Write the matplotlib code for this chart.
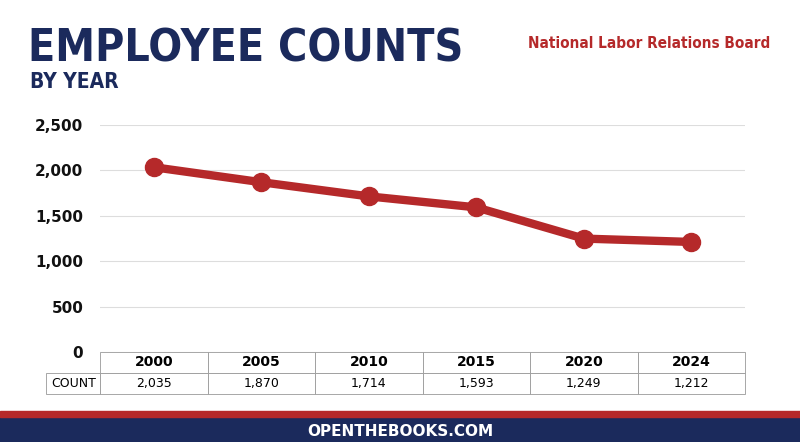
import matplotlib
matplotlib.use("Agg")
import matplotlib.pyplot as plt
from matplotlib.patches import Rectangle

years = ["2000", "2005", "2010", "2015", "2020", "2024"]
counts = [2035, 1870, 1714, 1593, 1249, 1212]
count_labels = ["2,035", "1,870", "1,714", "1,593", "1,249", "1,212"]
yticks = [0, 500, 1000, 1500, 2000, 2500]

W, H = 800, 442
fig = plt.figure(figsize=(8, 4.42), dpi=100)
fig.patch.set_facecolor("white")

def fx(px): return px / W
def fy(py): return 1 - py / H

ax = fig.add_axes([fx(100), fy(352), fx(745) - fx(100), fy(125) - fy(352)])
ax.set_xlim(-0.5, 5.5)
ax.set_ylim(0, 2500)
x = list(range(len(years)))
ax.plot(x, counts, color="#b5292a", lw=6, marker="o", ms=13, solid_capstyle="round", zorder=3)
ax.set_yticks(yticks)
ax.set_yticklabels([f"{v:,}" for v in yticks], fontsize=11, fontweight="bold", color="#111111")
ax.set_xticks([])
ax.tick_params(axis="y", length=0, pad=12)
ax.grid(axis="y", color="#dddddd", lw=0.8)
for s in ax.spines.values():
    s.set_visible(False)
ax.set_facecolor("none")

tab = ax.table(cellText=[years, count_labels], rowLabels=["", "COUNT"],
               cellLoc="center", bbox=[0, -0.185, 1, 0.185])
tab.auto_set_font_size(False)
for (r, c), cell in tab.get_celld().items():
    cell.set_edgecolor("#999999")
    cell.set_linewidth(0.6)
    cell.set_fontsize(10 if r == 0 else 9)
    if r == 0 and c >= 0:
        cell.get_text().set_fontweight("bold")
    if c == -1 and r == 0:
        cell.set_edgecolor("white")

fig.text(fx(28), fy(61), "EMPLOYEE COUNTS", fontsize=32, fontweight="heavy", color="#1b2a5c",
         va="baseline", fontstretch="condensed")
fig.text(fx(30), fy(88), "BY YEAR", fontsize=15, fontweight="heavy", color="#1b2a5c", va="baseline",
         fontstretch="condensed")
fig.text(fx(770), fy(48), "National Labor Relations Board", fontsize=11, color="#b5292a",
         ha="right", va="baseline", fontweight="bold", fontstretch="condensed")

fig.add_artist(Rectangle((0, 0), 1, fy(417), transform=fig.transFigure, color="#1b2a5c"))
fig.add_artist(Rectangle((0, fy(417)), 1, fy(411) - fy(417), transform=fig.transFigure, color="#b5292a"))
fig.text(0.5, fy(431), "OPENTHEBOOKS.COM", fontsize=11, fontweight="bold", color="white", ha="center", va="center")

fig.savefig("out.png", dpi=100)
